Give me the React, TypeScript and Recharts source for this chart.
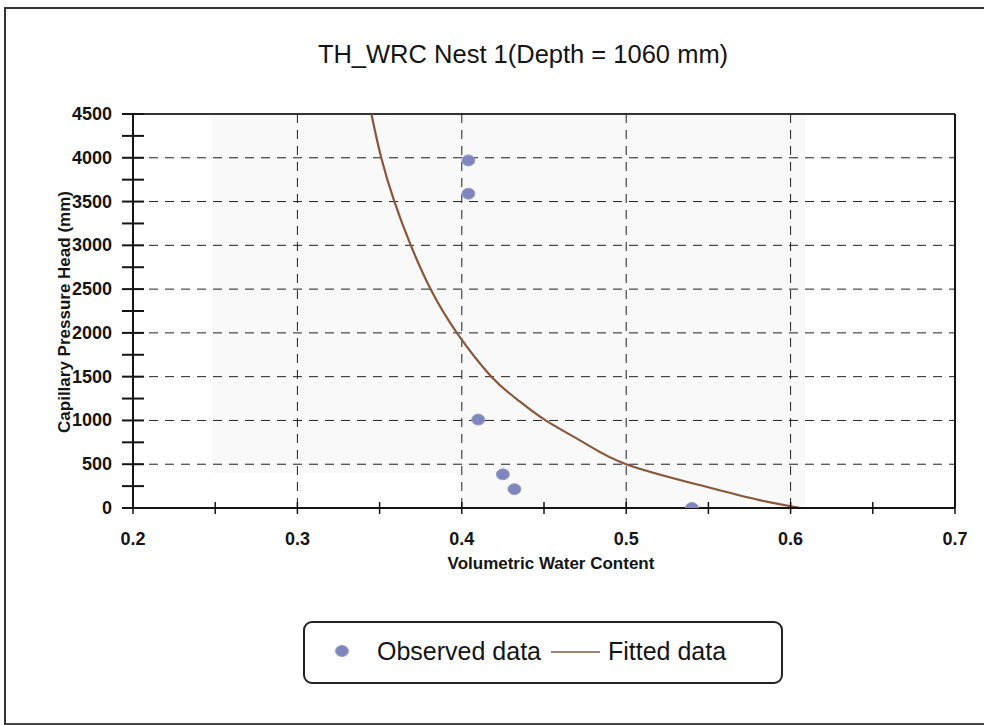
import React from "react";
import {
  ComposedChart, Line, Scatter, XAxis, YAxis, CartesianGrid, ReferenceLine, ReferenceArea,
} from "recharts";

// observed points (theta, head in mm)
const observedTheta = [0.404, 0.404, 0.41, 0.425, 0.432, 0.54];
const observedHead = [3970, 3590, 1010, 385, 215, 0];

// fitted curve
const fittedTheta = [0.345, 0.351, 0.359, 0.369, 0.381, 0.397, 0.418, 0.433, 0.451, 0.474, 0.5, 0.544, 0.581, 0.606];
const fittedHead = [4500, 4000, 3500, 3000, 2500, 2000, 1500, 1250, 1000, 750, 500, 265, 90, 0];

const yTicks = [0, 250, 500, 750, 1000, 1250, 1500, 1750, 2000, 2250, 2500, 2750, 3000, 3250, 3500, 3750, 4000, 4250, 4500];
const yLabels = [0, 500, 1000, 1500, 2000, 2500, 3000, 3500, 4000, 4500];
const yGrid = [500, 1000, 1500, 2000, 2500, 3000, 3500, 4000];
const xTicks = [0.2, 0.25, 0.3, 0.35, 0.4, 0.45, 0.5, 0.55, 0.6, 0.65, 0.7];
const xLabels = [0.2, 0.3, 0.4, 0.5, 0.6, 0.7];
const xGrid = [0.3, 0.4, 0.5, 0.6];

const observed = observedTheta.map((x, i) => ({ x, y: observedHead[i] }));
const fitted = fittedTheta.map((x, i) => ({ x, y: fittedHead[i] }));

const FONT = '"Liberation Sans", Arial, sans-serif';
const INK = "#151515";
const CURVE = "#8a5638";
const DOT = "#7f86bb";

const YTick = (props: any) => {
  const { x, y, payload } = props;
  const v = payload.value;
  return (
    <g>
      <line x1={x - 11} x2={x + 11} y1={y} y2={y} stroke={INK} strokeWidth={2} />
      {yLabels.includes(v) && (
        <text x={x - 21} y={y} dy={6} textAnchor="end" fontSize={18} fontWeight="bold" fill={INK} fontFamily={FONT}>
          {v}
        </text>
      )}
    </g>
  );
};

const XTick = (props: any) => {
  const { x, y, payload } = props;
  const v = payload.value;
  return (
    <g>
      <line x1={x} x2={x} y1={y - 6} y2={y + 6} stroke={INK} strokeWidth={1.5} />
      {xLabels.includes(v) && (
        <text x={x} y={y + 37} textAnchor="middle" fontSize={18} fontWeight="bold" fill={INK} fontFamily={FONT}>
          {v}
        </text>
      )}
    </g>
  );
};

const Dot = (props: any) => {
  const { cx, cy } = props;
  return <ellipse cx={cx} cy={cy} rx={6.5} ry={5.5} fill={DOT} stroke="#9aa0cc" strokeWidth={1} />;
};

export default function App() {
  return (
    <div style={{ position: "absolute", left: 0, top: 0, width: 984, height: 725, background: "#fff", fontFamily: FONT }}>
      <div
        style={{
          position: "absolute", left: 4, top: 7, width: 980, height: 714,
          borderLeft: "2px solid #333", borderTop: "2px solid #333", borderBottom: "2px solid #444",
        }}
      />
      <div style={{ position: "absolute", left: 0, width: 1046, top: 40, textAlign: "center", fontSize: 25.5, color: INK }}>
        TH_WRC Nest 1(Depth = 1060 mm)
      </div>

      <ComposedChart
        width={984}
        height={725}
        margin={{ top: 114, right: 29, bottom: 177, left: 73 }}
        style={{ position: "absolute", left: 0, top: 0 }}
      >
        <ReferenceArea x1={0.248} x2={0.609} y1={400} y2={4500} fill="#000" fillOpacity={0.025} stroke="none" />
        <ReferenceArea x1={0.4} x2={0.609} y1={0} y2={400} fill="#000" fillOpacity={0.025} stroke="none" />
        <CartesianGrid
          horizontalValues={yGrid}
          verticalValues={xGrid}
          stroke="#222"
          strokeDasharray="9 7"
          strokeWidth={1}
        />
        <XAxis
          type="number"
          dataKey="x"
          domain={[0.2, 0.7]}
          ticks={xTicks}
          interval={0}
          height={40}
          tickSize={0}
          tickMargin={0}
          tickLine={false}
          tick={<XTick />}
          axisLine={{ stroke: INK, strokeWidth: 2 }}
          allowDataOverflow
        />
        <YAxis
          type="number"
          dataKey="y"
          domain={[0, 4500]}
          ticks={yTicks}
          interval={0}
          width={60}
          tickSize={0}
          tickMargin={0}
          tickLine={false}
          tick={<YTick />}
          axisLine={{ stroke: INK, strokeWidth: 2 }}
          allowDataOverflow
        />
        <ReferenceLine y={4500} stroke="#333" strokeWidth={2} />
        <ReferenceLine x={0.7} stroke={INK} strokeWidth={2} />
        <Line
          data={fitted}
          dataKey="y"
          type="natural"
          stroke={CURVE}
          strokeWidth={2.2}
          dot={false}
          isAnimationActive={false}
        />
        <Scatter data={observed} dataKey="y" shape={<Dot />} isAnimationActive={false} />
      </ComposedChart>

      <div
        style={{
          position: "absolute", left: 65, top: 312, transform: "translate(-50%, -50%) rotate(-90deg)",
          whiteSpace: "nowrap", fontSize: 17, fontWeight: "bold", color: INK,
        }}
      >
        Capillary Pressure Head (mm)
      </div>
      <div
        style={{
          position: "absolute", left: 551, top: 564, transform: "translate(-50%, -50%)",
          whiteSpace: "nowrap", fontSize: 17, fontWeight: "bold", color: INK,
        }}
      >
        Volumetric Water Content
      </div>

      <div
        style={{
          position: "absolute", left: 303, top: 621, width: 476, height: 59,
          border: "2px solid #222", borderRadius: 9, background: "#fff",
        }}
      >
        <svg width={476} height={59} style={{ position: "absolute", left: 0, top: 0 }}>
          <ellipse cx={37} cy={28} rx={6.5} ry={5.5} fill={DOT} stroke="#9aa0cc" />
          <text x={72} y={37} fontSize={25} fill={INK} fontFamily={FONT}>Observed data</text>
          <line x1={246} x2={295} y1={29} y2={29} stroke={CURVE} strokeWidth={1.5} />
          <text x={303} y={37} fontSize={25} fill={INK} fontFamily={FONT}>Fitted data</text>
        </svg>
      </div>
    </div>
  );
}
